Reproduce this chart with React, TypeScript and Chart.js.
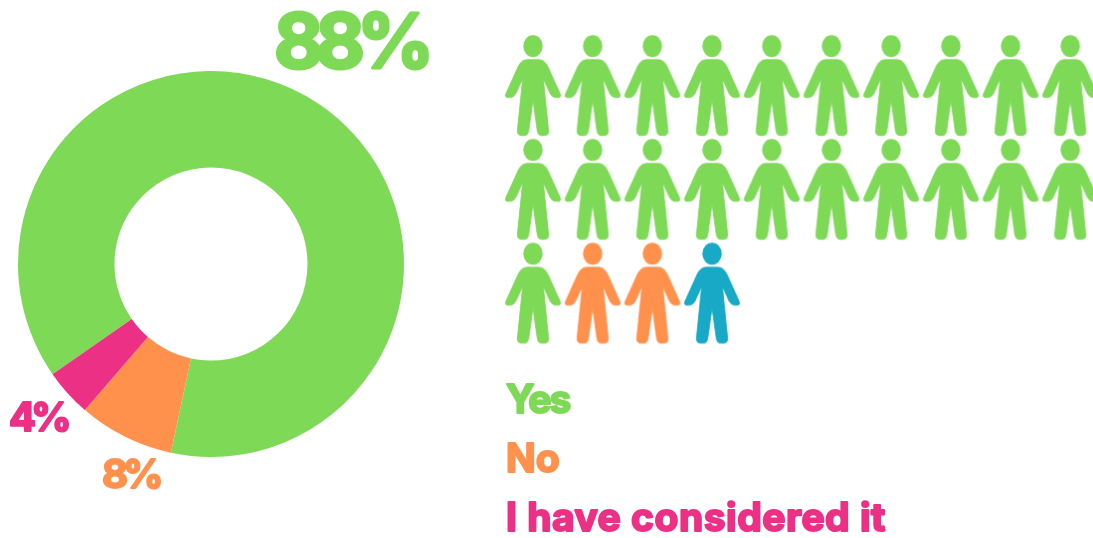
import React, { useEffect, useRef } from "react";
import { Chart, registerables } from "chart.js";

Chart.register(...registerables);

const answers = ["Yes", "No", "I have considered it"];
const shares = [88, 8, 4];
const shareLabels = ["88%", "8%", "4%"];
const sliceColors = ["#7ED957", "#FF914D", "#EC3085"];
const answerColors = ["#7ED957", "#FF914D", "#EC3085"];
const figureColors = ["#7ED957", "#FF914D", "#17A9C5"];

const yesColumns = [1, 2, 3, 4, 5, 6, 7, 8, 9, 10, 1, 2, 3, 4, 5, 6, 7, 8, 9, 10, 1];
const yesRows = [1, 1, 1, 1, 1, 1, 1, 1, 1, 1, 2, 2, 2, 2, 2, 2, 2, 2, 2, 2, 3];
const noColumns = [2, 3];
const noRows = [3, 3];
const consideredColumns = [4];
const consideredRows = [3];

const FONT = '"Inter", "Noto Sans", sans-serif';

// Builds the standing-figure glyph used as the point style of the pictogram.
function personGlyph(color: string): HTMLCanvasElement {
  const w = 60;
  const h = 104;
  const c = document.createElement("canvas");
  c.width = w;
  c.height = h;
  const g = c.getContext("2d")!;
  g.translate(w / 2, 1.5);
  g.fillStyle = color;
  g.strokeStyle = color;
  g.lineJoin = "round";
  g.lineWidth = 0.8;

  g.beginPath();
  g.ellipse(0, 10.7, 9.7, 11, 0, 0, Math.PI * 2);
  g.fill();

  g.beginPath();
  g.moveTo(-5.5, 24.2);
  g.lineTo(5.5, 24.2);
  g.bezierCurveTo(10.5, 24.2, 13, 27.5, 15, 31.5);
  g.lineTo(27.2, 58.5);
  g.quadraticCurveTo(28.5, 62, 25, 62.2);
  g.quadraticCurveTo(19.5, 62.8, 17, 58);
  g.lineTo(10.4, 43.5);
  g.lineTo(15.6, 95);
  g.quadraticCurveTo(16, 100, 11.5, 100.2);
  g.lineTo(8.5, 100.2);
  g.quadraticCurveTo(5, 100.2, 4.2, 95);
  g.lineTo(0, 65);
  g.lineTo(-4.2, 95);
  g.quadraticCurveTo(-5, 100.2, -8.5, 100.2);
  g.lineTo(-11.5, 100.2);
  g.quadraticCurveTo(-16, 100, -15.6, 95);
  g.lineTo(-10.4, 43.5);
  g.lineTo(-17, 58);
  g.quadraticCurveTo(-19.5, 62.8, -25, 62.2);
  g.quadraticCurveTo(-28.5, 62, -27.2, 58.5);
  g.lineTo(-15, 31.5);
  g.bezierCurveTo(-13, 27.5, -10.5, 24.2, -5.5, 24.2);
  g.closePath();
  g.fill();
  g.stroke();
  return c;
}

// Heavy lettering with softened corners: filled text plus a round-joined outline.
function roundedText(
  ctx: CanvasRenderingContext2D,
  text: string,
  x: number,
  y: number,
  size: number,
  color: string,
  outline: number,
  spacing = 0
) {
  ctx.save();
  ctx.font = `700 ${size}px ${FONT}`;
  ctx.textAlign = "left";
  ctx.textBaseline = "alphabetic";
  (ctx as any).letterSpacing = `${spacing}px`;
  ctx.fillStyle = color;
  ctx.strokeStyle = color;
  ctx.lineJoin = "round";
  ctx.lineWidth = outline;
  ctx.strokeText(text, x, y);
  ctx.fillText(text, x, y);
  ctx.restore();
}

export default function App() {
  const donutRef = useRef<HTMLCanvasElement>(null);
  const figuresRef = useRef<HTMLCanvasElement>(null);

  useEffect(() => {
    const shareLabelPlugin = {
      id: "shareLabels",
      afterDatasetsDraw(chart: any) {
        const ctx = chart.ctx as CanvasRenderingContext2D;
        roundedText(ctx, shareLabels[0], 274, 68, 76, sliceColors[0], 3, -8);
        roundedText(ctx, shareLabels[1], 102, 488, 40, sliceColors[1], 2, -5);
        roundedText(ctx, shareLabels[2], 9, 431, 40, sliceColors[2], 2, -5);
      },
    };

    const donut = new Chart(donutRef.current!, {
      type: "doughnut",
      data: {
        labels: answers,
        datasets: [
          {
            data: shares,
            backgroundColor: sliceColors,
            borderWidth: 0,
          },
        ],
      },
      options: {
        responsive: false,
        animation: false,
        cutout: "50%",
        rotation: 235.2,
        layout: { padding: { left: 18, right: 96, top: 71, bottom: 81 } },
        plugins: { legend: { display: false }, tooltip: { enabled: false } },
      },
      plugins: [shareLabelPlugin],
    } as any);

    const answerKeyPlugin = {
      id: "answerKey",
      afterDatasetsDraw(chart: any) {
        const ctx = chart.ctx as CanvasRenderingContext2D;
        const baselines = [413, 472, 531];
        const spacings = [-2, 0, 0.5];
        answers.forEach((label, i) => {
          roundedText(ctx, label, 6, baselines[i], 39, answerColors[i], 2, spacings[i]);
        });
      },
    };

    const toPoints = (xs: number[], ys: number[]) => xs.map((x, i) => ({ x, y: ys[i] }));
    const series = [
      toPoints(yesColumns, yesRows),
      toPoints(noColumns, noRows),
      toPoints(consideredColumns, consideredRows),
    ];

    const figures = new Chart(figuresRef.current!, {
      type: "scatter",
      data: {
        datasets: series.map((data, i) => ({
          label: answers[i],
          data,
          pointStyle: personGlyph(figureColors[i]),
          pointRadius: 0.5,
          pointHoverRadius: 0,
          pointBorderWidth: 0,
          pointHoverBorderWidth: 0,
          showLine: false,
          clip: false,
        })),
      },
      options: {
        responsive: false,
        animation: false,
        layout: { padding: 0 },
        scales: {
          x: { type: "linear", display: false, min: 0.4565, max: 10.373 },
          y: { type: "linear", display: false, reverse: true, min: 0.178, max: 5.351 },
        },
        plugins: { legend: { display: false }, tooltip: { enabled: false } },
      },
      plugins: [answerKeyPlugin],
    } as any);

    return () => {
      donut.destroy();
      figures.destroy();
    };
  }, []);

  return (
    <div style={{ position: "absolute", left: 0, top: 0, width: 1093, height: 538, overflow: "hidden", background: "#fff" }}>
      <canvas ref={donutRef} width={500} height={538} style={{ position: "absolute", left: 0, top: 0 }} />
      <canvas ref={figuresRef} width={593} height={538} style={{ position: "absolute", left: 500, top: 0 }} />
    </div>
  );
}
